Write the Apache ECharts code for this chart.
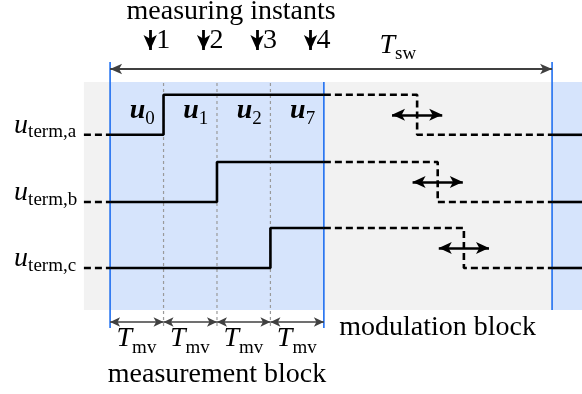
<!DOCTYPE html>
<html>
<head>
<meta charset="utf-8">
<script src="https://cdn.jsdelivr.net/npm/echarts@6/dist/echarts.min.js"></script>
<style>
html,body{margin:0;padding:0;background:#fff;}
#c{width:582px;height:394px;}
</style>
</head>
<body>
<div id="c"></div>
<script>
// Time is measured in units of T_mv; the measurement block spans 4 T_mv.
const measureInstants = [0.75, 1.75, 2.75, 3.75];
const measureLabels = ['1', '2', '3', '4'];
const blockLen = 4;
const Tsw = 8.27;
const phases = ['a', 'b', 'c'];
const rowBase = [3.33, 1.65, 0];        // low level of each terminal voltage
const riseT = [1, 2, 3];                 // switching instants inside the measurement block
const fallT = [5.745, 6.13, 6.62];       // movable edges inside the modulation block
const vectorSubs = ['0', '1', '2', '7'];
const periodSub = 'mv';
const tStart = -0.49, tEnd = 8.83;

// axis extents (whole canvas is one grid)
const X_MIN = -2.06, X_MAX = 8.83, Y_MIN = -3.15, Y_MAX = 6.7;
const PX = (X_MAX - X_MIN) / 582;   // data units per pixel, horizontal
const PY = (Y_MAX - Y_MIN) / 394;   // data units per pixel, vertical

const SERIF = '"Liberation Serif","Times New Roman",serif';
const BIG = 28, SMALL = 19;

const bgTop = 4.65, bgBottom = -1.05;
const arrowRowY = -1.35;
const tswY = 4.975;

const solid = {color: '#000', width: 2.6, type: 'solid'};
const dashed = {color: '#000', width: 2.6, type: [7, 4]};

function path(data, lineStyle, z) {
  return {type: 'line', data, symbol: 'none', silent: true, animation: false,
          lineStyle, z: z || 5, clip: false};
}

const series = [];

// shaded regions
series.push({
  type: 'line', data: [], silent: true, animation: false,
  markArea: {
    silent: true, z: 1,
    data: [
      [{coord: [tStart, bgBottom], itemStyle: {color: '#f2f2f2'}}, {coord: [tEnd, bgTop]}],
      [{coord: [0, bgBottom], itemStyle: {color: '#d6e4fc'}}, {coord: [blockLen, bgTop]}],
      [{coord: [Tsw, bgBottom], itemStyle: {color: '#d6e4fc'}}, {coord: [tEnd, bgTop]}]
    ]
  }
});

// block borders
const blue = {color: '#1f6ff0', width: 1.6, type: 'solid'};
series.push(path([[0, -1.5], [0, 5.15]], blue, 3));
series.push(path([[blockLen, -1.5], [blockLen, bgTop]], blue, 3));
series.push(path([[Tsw, bgBottom], [Tsw, 5.15]], blue, 3));

// dotted separators between measuring intervals
[1, 2, 3].forEach(t => {
  series.push(path([[t, -1.45], [t, bgTop]], {color: '#9a9a9a', width: 1.2, type: [3, 3]}, 2));
});

// terminal voltages
phases.forEach((p, i) => {
  const lo = rowBase[i], hi = rowBase[i] + 1;
  series.push(path([[tStart, lo], [0, lo]], dashed));
  series.push(path([[0, lo], [riseT[i], lo], [riseT[i], hi], [blockLen, hi]], solid));
  series.push(path([[blockLen, hi], [fallT[i], hi], [fallT[i], lo], [Tsw, lo]], dashed));
  series.push(path([[Tsw, lo], [tEnd, lo]], solid));
});

function arrows(pairs, style, symbols, size) {
  return {
    type: 'line', data: [], silent: true, animation: false,
    markLine: {
      silent: true, animation: false, z: 6,
      symbol: symbols, symbolSize: size,
      label: {show: false},
      lineStyle: style,
      data: pairs.map(([a, b]) => [{coord: a}, {coord: b}])
    }
  };
}

// switching period arrow
series.push(arrows([[[0, tswY], [Tsw, tswY]]],
  {color: '#404040', width: 1.8, type: 'solid'}, ['arrow', 'arrow'], [8, 12]));
// measuring interval arrows
series.push(arrows([0, 1, 2, 3].map(k => [[k, arrowRowY], [k + 1, arrowRowY]]),
  {color: '#404040', width: 1.6, type: 'solid'}, ['arrow', 'arrow'], [7, 10]));
// measuring instants
series.push(arrows(measureInstants.map(t => [[t, 5.95], [t, 5.45]]),
  {color: '#000', width: 2.8, type: 'solid'}, ['none', 'arrow'], [10, 15]));
// movable edges
series.push(arrows(phases.map((p, i) => [[fallT[i] - 0.47, rowBase[i] + 0.5], [fallT[i] + 0.47, rowBase[i] + 0.5]]),
  {color: '#000', width: 2.6, type: 'solid'}, ['arrow', 'arrow'], [9, 13]));

// text labels: anchor in data units, pieces with pixel nudges
const texts = [];
function part(text, size, style, align, dx, dy) {
  return {text, size, style: style || '', align: align || 'center', dx: dx || 0, dy: dy || 0};
}
texts.push({x: 2.264, y: Y_MAX - 21 * PY, parts: [part('measuring instants', BIG)]});
measureInstants.forEach((t, k) => {
  texts.push({x: t, y: Y_MAX - 50 * PY, parts: [part(measureLabels[k], BIG, '', 'left', 6, 0)]});
});
texts.push({x: 5.333, y: 5.325, parts: [part('T', BIG, 'italic', 'right'), part('sw', SMALL, '', 'left', 0, 5)]});
phases.forEach((p, i) => {
  texts.push({x: -1.534, y: rowBase[i], parts: [part('u', BIG, 'italic', 'right'), part('term,' + p, SMALL, '', 'left', 0, 4)]});
});
vectorSubs.forEach((s, k) => {
  texts.push({x: k + 0.5, y: 3.7, parts: [part('u', BIG, 'italic bold', 'right', 8.5), part(s, SMALL, '', 'left', 8.5, 5)]});
});
[0, 1, 2, 3].forEach(k => {
  texts.push({x: k + 0.5, y: -2.0, parts: [part('T', BIG, 'italic', 'right', -4.7), part(periodSub, SMALL, '', 'left', -4.7, 6)]});
});
texts.push({x: 6.128, y: -1.725, parts: [part('modulation block', BIG)]});
texts.push({x: 2.0, y: -2.9, parts: [part('measurement block', BIG)]});

series.push({
  type: 'custom', coordinateSystem: 'cartesian2d', clip: false, silent: true, animation: false, z: 10,
  data: texts.map(t => [t.x, t.y]),
  encode: {x: 0, y: 1},
  renderItem(params, api) {
    const it = texts[params.dataIndex];
    const p = api.coord([it.x, it.y]);
    return {
      type: 'group',
      children: it.parts.map(pt => ({
        type: 'text',
        x: p[0] + pt.dx,
        y: p[1] + pt.dy - 0.34 * pt.size,
        style: {
          text: pt.text,
          font: (pt.style ? pt.style + ' ' : '') + pt.size + 'px ' + SERIF,
          fill: '#000',
          align: pt.align,
          verticalAlign: 'middle'
        }
      }))
    };
  }
});

const chart = echarts.init(document.getElementById('c'));
chart.setOption({
  animation: false,
  grid: {left: 0, right: 0, top: 0, bottom: 0},
  xAxis: {type: 'value', min: X_MIN, max: X_MAX, show: false},
  yAxis: {type: 'value', min: Y_MIN, max: Y_MAX, show: false},
  series
});
</script>
</body>
</html>
